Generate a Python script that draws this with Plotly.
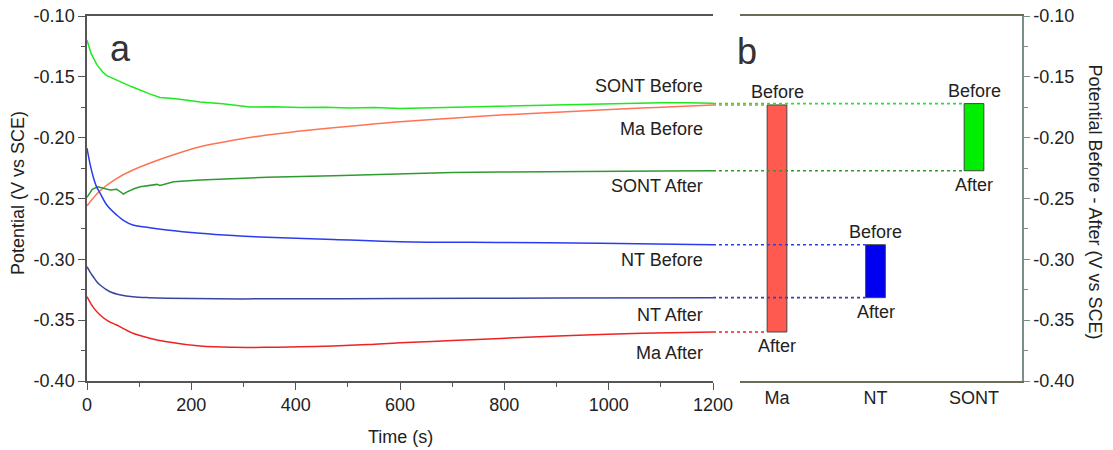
import plotly.graph_objects as go

# ---------------- data ----------------
t_sont_before = [0, 8, 19, 30, 38, 55, 69, 85, 102, 120, 140, 170, 217, 260, 312, 360, 408, 455, 504, 550,
                 600, 650, 700, 750, 792, 840, 890, 940, 983, 1040, 1100, 1150, 1200]
v_sont_before = [-0.120, -0.131, -0.140, -0.146, -0.149, -0.152, -0.155, -0.158, -0.161, -0.164, -0.167,
                 -0.168, -0.1707, -0.1722, -0.1748, -0.1745, -0.1752, -0.1750, -0.1757, -0.1752,
                 -0.1760, -0.1755, -0.1752, -0.1748, -0.1745, -0.1740, -0.1735, -0.1730, -0.1723,
                 -0.1720, -0.1713, -0.1712, -0.1718]

t_ma_before = [0, 25, 55, 88, 153, 217, 280, 345, 410, 472, 540, 600, 700, 792, 890, 983, 1090, 1200]
v_ma_before = [-0.256, -0.2436, -0.2340, -0.2266, -0.2159, -0.2074, -0.2022, -0.1978, -0.1946, -0.1918,
               -0.1892, -0.1869, -0.1840, -0.1814, -0.1793, -0.1773, -0.1752, -0.1731]

t_sont_after = [0, 10, 21, 33, 44, 57, 64, 70, 76, 90, 102, 118, 134, 140, 150, 166, 217, 280, 345, 472,
                600, 700, 792, 890, 983, 1100, 1200]
v_sont_after = [-0.2490, -0.2425, -0.2403, -0.2415, -0.2430, -0.2424, -0.2445, -0.2463, -0.2448, -0.2420,
                -0.2403, -0.2392, -0.2384, -0.2392, -0.2378, -0.2362, -0.2348, -0.2336, -0.2326, -0.2313,
                -0.2295, -0.2287, -0.2282, -0.2278, -0.2274, -0.2273, -0.2272]

t_nt_before = [0, 6, 12, 18, 25, 38, 57, 69, 88, 120, 153, 217, 280, 345, 472, 600, 800, 983, 1200]
v_nt_before = [-0.2086, -0.2220, -0.2323, -0.2400, -0.2455, -0.2553, -0.2636, -0.2677, -0.2718, -0.2740,
               -0.2759, -0.2786, -0.2805, -0.2819, -0.2836, -0.2855, -0.2862, -0.2868, -0.2880]

t_nt_after = [0, 6, 12, 18, 25, 44, 65, 88, 120, 153, 300, 600, 900, 1200]
v_nt_after = [-0.3060, -0.3105, -0.3143, -0.3180, -0.3211, -0.3266, -0.3293, -0.3307, -0.3315, -0.3320,
              -0.3325, -0.3322, -0.3318, -0.3315]

t_ma_after = [0, 12, 25, 40, 57, 88, 120, 153, 217, 280, 345, 410, 472, 540, 600, 700, 792, 890, 983, 1090, 1200]
v_ma_after = [-0.3307, -0.3395, -0.3457, -0.3505, -0.3540, -0.3608, -0.3648, -0.3677, -0.3712, -0.3723,
              -0.3723, -0.3718, -0.3712, -0.3700, -0.3685, -0.3668, -0.3650, -0.3633, -0.3617, -0.3606, -0.3597]

categories = ["Ma", "NT", "SONT"]
before_vals = [-0.1731, -0.2880, -0.1720]
after_vals = [-0.3597, -0.3315, -0.2272]

y_ticks = [-0.40, -0.35, -0.30, -0.25, -0.20, -0.15, -0.10]
y_ticklabels = ["-0.40", "-0.35", "-0.30", "-0.25", "-0.20", "-0.15", "-0.10"]
x_ticks = [0, 200, 400, 600, 800, 1000, 1200]

curve_labels = ["SONT Before", "Ma Before", "SONT After", "NT Before", "NT After", "Ma After"]
curve_label_y = [-0.1575, -0.1925, -0.2397, -0.3005, -0.3457, -0.3766]

# ---------------- styles ----------------
c_sont_b = "#1ee81e"
c_ma_b = "#ff7355"
c_sont_a = "#2f9a2f"
c_nt_b = "#2a3cf2"
c_nt_a = "#3a44a4"
c_ma_a = "#ee2222"
bar_colors = ["#ff5a50", "#0000f0", "#00ee00"]
before_line_colors = [c_ma_b, c_nt_b, c_sont_b]
after_line_colors = [c_ma_a, c_nt_a, c_sont_a]

FONT = "Liberation Sans, Arial, sans-serif"
TXT = "#222222"
FS = 18

# body margin is removed by the post script, so the figure fills the window
W, H = 1113, 450
px_left, px_right, px_top, px_bottom = 87, 1022, 16, 381  # window pixels of plot area
L = px_left
T = px_top
R = W - px_right
B = H - px_bottom
plot_w = px_right - px_left
px_a_right = 713
px_b_left = 740
dom_a = [0, (px_a_right - px_left) / plot_w]
dom_b = [(px_b_left - px_left) / plot_w, 1]
dom_c = [(px_a_right - px_left) / plot_w, 1]

# category axis geometry
cat0_px = 777.0
cat_step = 98.5
bar_w = 0.2
xb_range = [(px_b_left - cat0_px) / cat_step, (px_right - cat0_px) / cat_step]
xc_range = [(px_a_right - cat0_px) / cat_step, xb_range[1]]

fig = go.Figure()

series = [
    (t_sont_before, v_sont_before, c_sont_b, "linear"),
    (t_ma_before, v_ma_before, c_ma_b, "spline"),
    (t_sont_after, v_sont_after, c_sont_a, "linear"),
    (t_nt_before, v_nt_before, c_nt_b, "spline"),
    (t_nt_after, v_nt_after, c_nt_a, "spline"),
    (t_ma_after, v_ma_after, c_ma_a, "spline"),
]
for tx, vy, col, shp in series:
    fig.add_trace(go.Scatter(x=tx, y=vy, mode="lines", line=dict(color=col, width=1.5, shape=shp),
                             xaxis="x", yaxis="y", showlegend=False, hoverinfo="skip"))

# floating bars (before - after)
fig.add_trace(go.Bar(
    x=list(range(len(categories))),
    y=[b - a for b, a in zip(before_vals, after_vals)],
    base=after_vals,
    width=bar_w,
    marker=dict(color=bar_colors, line=dict(color="#444444", width=1)),
    xaxis="x2", yaxis="y2", showlegend=False, hoverinfo="skip",
))

# dotted connectors from curve ends to bars
for i in range(len(categories)):
    for vals, cols in ((after_vals, after_line_colors), (before_vals, before_line_colors)):
        fig.add_trace(go.Scatter(
            x=[xc_range[0], i - bar_w / 2], y=[vals[i], vals[i]], mode="lines",
            line=dict(color=cols[i], width=1.6, dash="dot"),
            xaxis="x3", yaxis="y3", showlegend=False, hoverinfo="skip",
        ))

annotations = []
for txt, yy in zip(curve_labels, curve_label_y):
    annotations.append(dict(x=1200, y=yy, xref="x", yref="y", text=txt, showarrow=False,
                            xanchor="right", yanchor="middle", xshift=-8,
                            font=dict(family=FONT, size=FS, color=TXT)))
for i in range(len(categories)):
    annotations.append(dict(x=i, y=before_vals[i], xref="x2", yref="y2", text="Before", showarrow=False,
                            yanchor="bottom", yshift=1, font=dict(family=FONT, size=FS, color=TXT)))
    annotations.append(dict(x=i, y=after_vals[i], xref="x2", yref="y2", text="After", showarrow=False,
                            yanchor="top", yshift=-2, font=dict(family=FONT, size=FS, color=TXT)))
annotations.append(dict(x=65, y=-0.1271, xref="x", yref="y", text="a", showarrow=False,
                        xanchor="center", yanchor="middle", font=dict(family=FONT, size=36, color="#333333")))
annotations.append(dict(x=-0.305, y=-0.1288, xref="x2", yref="y2", text="b", showarrow=False,
                        xanchor="center", yanchor="middle", font=dict(family=FONT, size=36, color="#333333")))
annotations.append(dict(x=0, y=0.5, xref="paper", yref="paper", text="Potential (V vs SCE)",
                        showarrow=False, textangle=-90, xanchor="center", yanchor="middle",
                        xshift=18 - px_left, yshift=(198.5 - 193),
                        font=dict(family=FONT, size=FS, color=TXT)))
annotations.append(dict(x=1, y=0.5, xref="paper", yref="paper", text="Potential Before - After (V vs SCE)",
                        showarrow=False, textangle=90, xanchor="center", yanchor="middle",
                        xshift=1095 - px_right, yshift=(198.5 - 201.5),
                        font=dict(family=FONT, size=FS, color=TXT)))
annotations.append(dict(x=600, y=0, xref="x", yref="paper", text="Time (s)", showarrow=False,
                        xanchor="center", yanchor="middle", yshift=-(437 - px_bottom),
                        font=dict(family=FONT, size=FS, color=TXT)))

yrange = [-0.40, -0.10]
AX = "#555555"
RAX = "#7a8f8c"
fig.update_layout(
    width=W, height=H,
    margin=dict(l=L, r=R, t=T, b=B, autoexpand=False),
    paper_bgcolor="white", plot_bgcolor="rgba(0,0,0,0)",
    font=dict(family=FONT, size=FS, color=TXT),
    xaxis=dict(domain=dom_a, range=[0, 1200], tickvals=x_ticks, ticks="outside", ticklen=7, tickwidth=1.2,
               tickcolor=AX, showline=True, linecolor=AX, linewidth=1.5, mirror=True, automargin=False,
               showgrid=False, zeroline=False, anchor="y", ticklabeloverflow="allow",
               minor=dict(dtick=100, ticks="outside", ticklen=4, tickcolor=AX, showgrid=False),
               tickfont=dict(family=FONT, size=FS, color=TXT)),
    yaxis=dict(domain=[0, 1], range=yrange, tickvals=y_ticks, ticktext=y_ticklabels, ticks="outside",
               ticklen=7, tickwidth=1.2, tickcolor=AX, showline=True, linecolor=AX, linewidth=1.5,
               showgrid=False, zeroline=False, anchor="x", automargin=False, ticklabeloverflow="allow",
               minor=dict(dtick=0.025, ticks="outside", ticklen=4, tickcolor=AX, showgrid=False),
               tickfont=dict(family=FONT, size=FS, color=TXT)),
    xaxis2=dict(domain=dom_b, range=xb_range, tickvals=list(range(len(categories))), ticktext=categories,
                ticks="", showline=True, linecolor="#6b6b58", automargin=False, ticklabeloverflow="allow",
                linewidth=1.5, mirror=True, showgrid=False, zeroline=False, anchor="y2",
                tickfont=dict(family=FONT, size=FS, color=TXT)),
    yaxis2=dict(domain=[0, 1], range=yrange, side="right", anchor="x2", tickvals=y_ticks, ticktext=y_ticklabels,
                ticks="outside", ticklen=6, tickwidth=1.2, tickcolor=RAX, showline=True, linecolor=RAX,
                linewidth=1.5, showgrid=False, zeroline=False, automargin=False, ticklabeloverflow="allow",
                minor=dict(dtick=0.025, ticks="outside", ticklen=4, tickcolor=RAX, showgrid=False),
                tickfont=dict(family=FONT, size=FS, color=TXT)),
    xaxis3=dict(domain=dom_c, range=xc_range, visible=False, anchor="y3", automargin=False),
    yaxis3=dict(domain=[0, 1], range=yrange, visible=False, anchor="x3", automargin=False),
    annotations=annotations,
)

fig.write_html("out.html", config={"displayModeBar": False},
               post_script="document.body.style.margin='0px';")
